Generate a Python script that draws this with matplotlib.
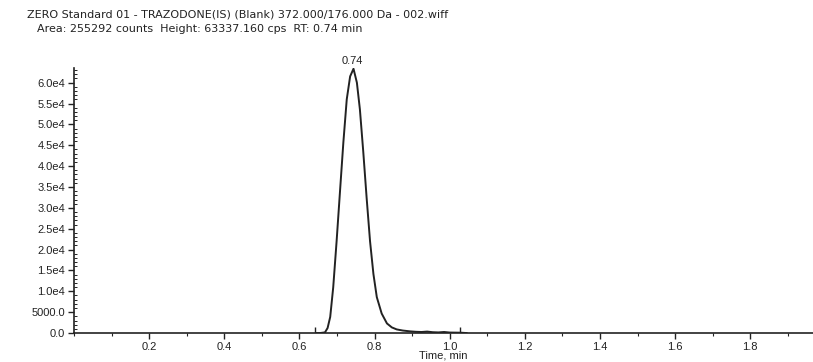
import matplotlib
matplotlib.use("Agg")
import matplotlib.pyplot as plt
from matplotlib.ticker import FixedLocator, MultipleLocator

plt.rcParams['font.family'] = ['Liberation Sans', 'DejaVu Sans']

title_line1 = "ZERO Standard 01 - TRAZODONE(IS) (Blank) 372.000/176.000 Da - 002.wiff"
title_line2 = "Area: 255292 counts  Height: 63337.160 cps  RT: 0.74 min"

time_min = [0.645, 0.655, 0.668, 0.675, 0.682, 0.690, 0.699, 0.708, 0.717, 0.726,
            0.735, 0.744, 0.753, 0.761, 0.770, 0.779, 0.788, 0.797, 0.806, 0.819,
            0.833, 0.846, 0.859, 0.875, 0.895, 0.910, 0.925, 0.940, 0.955, 0.970,
            0.985, 1.000, 1.015, 1.030, 1.045]
intensity = [0, 0, 150, 1200, 3860, 10970, 22000, 33900, 45700, 56000,
             61500, 63337, 60000, 53600, 43400, 32300, 22000, 14150, 8600, 4670,
             2300, 1350, 870, 600, 400, 300, 250, 350, 200, 150,
             250, 120, 100, 80, 0]

peak_rt = 0.74
peak_height = 63337.160
boundary_times = [0.642, 1.028]
boundary_height = 1400

xticks = [0.2, 0.4, 0.6, 0.8, 1.0, 1.2, 1.4, 1.6, 1.8]
xtick_labels = ["0.2", "0.4", "0.6", "0.8", "1.0", "1.2", "1.4", "1.6", "1.8"]
yticks = [0, 5000, 10000, 15000, 20000, 25000, 30000, 35000, 40000, 45000, 50000, 55000, 60000]
ytick_labels = ["0.0", "5000.0", "1.0e4", "1.5e4", "2.0e4", "2.5e4", "3.0e4", "3.5e4",
                "4.0e4", "4.5e4", "5.0e4", "5.5e4", "6.0e4"]

fig = plt.figure(figsize=(8.13, 3.62), dpi=100)
ax = fig.add_axes([0.091, 0.080, 0.909, 0.732])

ax.plot(time_min, intensity, color='#222222', lw=1.4)
ax.vlines(boundary_times, 0, boundary_height, color='#222222', lw=1.0)
ax.text(peak_rt, peak_height + 600, "0.74", ha='center', va='bottom', fontsize=8, color='#222222')

ax.set_xlim(0, 1.967)
ax.set_ylim(0, 63500)

for s in ['top', 'right']:
    ax.spines[s].set_visible(False)
for s in ['left', 'bottom']:
    ax.spines[s].set_color('#222222')
    ax.spines[s].set_linewidth(1.2)

ax.xaxis.set_major_locator(FixedLocator(xticks))
ax.set_xticklabels(xtick_labels)
ax.xaxis.set_minor_locator(MultipleLocator(0.1))
ax.yaxis.set_major_locator(FixedLocator(yticks))
ax.set_yticklabels(ytick_labels)
ax.yaxis.set_minor_locator(MultipleLocator(1000))

ax.tick_params(axis='both', which='major', labelsize=8, colors='#222222', length=4, width=1.0, direction='out', pad=2.5)
ax.tick_params(axis='y', which='minor', length=2.5, width=0.7, direction='in', colors='#222222')
ax.tick_params(axis='x', which='minor', length=2, width=0.8, direction='out', colors='#222222')

ax.set_xlabel("Time, min", fontsize=8, color='#222222', labelpad=-1)

fig.text(0.033, 0.975, title_line1, ha='left', va='top', fontsize=8, color='#222222',
         family=['DejaVu Sans'])
fig.text(0.045, 0.935, title_line2, ha='left', va='top', fontsize=8, color='#222222',
         family=['DejaVu Sans'])

fig.savefig("out.png", dpi=100)
